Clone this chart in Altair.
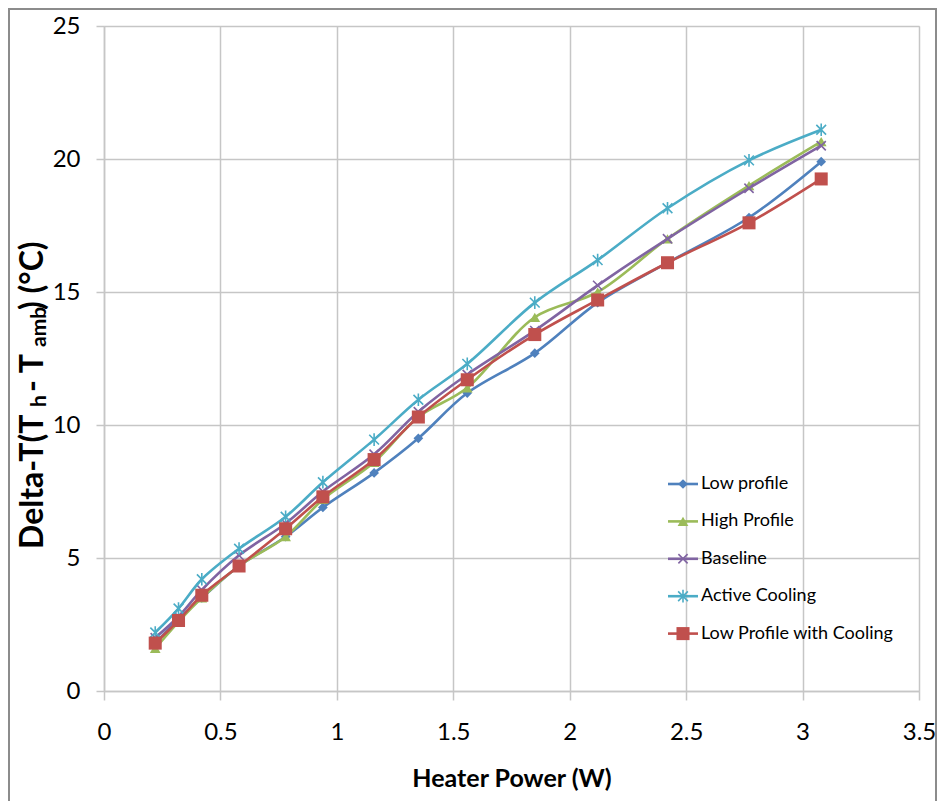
import altair as alt
import pandas as pd

# ---------------- data ----------------
heater_power = [0.22, 0.32, 0.42, 0.58, 0.78, 0.94, 1.16, 1.35, 1.56, 1.85, 2.12, 2.42, 2.77, 3.08]

low_profile = [1.8, 2.7, 3.5, 4.7, 5.8, 6.9, 8.2, 9.5, 11.2, 12.7, 14.6, 16.1, 17.8, 19.9]
high_profile = [1.6, 2.6, 3.5, 4.7, 5.8, 7.2, 8.6, 10.3, 11.4, 14.05, 15.0, 17.0, 19.0, 20.65]
baseline = [2.0, 2.8, 3.8, 5.1, 6.3, 7.5, 8.9, 10.5, 11.9, 13.55, 15.25, 17.0, 18.9, 20.5]
active_cooling = [2.2, 3.1, 4.2, 5.35, 6.55, 7.85, 9.45, 10.95, 12.3, 14.6, 16.2, 18.15, 19.95, 21.1]
low_profile_cooling = [1.8, 2.65, 3.6, 4.7, 6.1, 7.3, 8.7, 10.3, 11.7, 13.4, 14.7, 16.1, 17.6, 19.25]

series_names = ["Low profile", "High Profile", "Baseline", "Active Cooling", "Low Profile with Cooling"]
series_values = [low_profile, high_profile, baseline, active_cooling, low_profile_cooling]

x_ticks = [0, 0.5, 1, 1.5, 2, 2.5, 3, 3.5]
y_ticks = [0, 5, 10, 15, 20, 25]

# ---------------- styles ----------------
colors = ["#4F81BD", "#9BBB59", "#8064A2", "#4BACC6", "#C0504D"]
X_PATH = "M-1,-1L1,1M-1,1L1,-1"
STAR_PATH = "M-1,-1L1,1M-1,1L1,-1M0,-1.3L0,1.3"
marker_styles = [
    dict(shape="diamond", filled=True, size=95),
    dict(shape="triangle-up", filled=True, size=115),
    dict(shape=X_PATH, filled=False, size=85),
    dict(shape=STAR_PATH, filled=False, size=95),
    dict(shape="square", filled=True, size=170),
]
FONT = "Lato"
GRID = "#C6C6C6"

W, H = 815, 665

rows = []
for name, vals in zip(series_names, series_values):
    for i, (xv, yv) in enumerate(zip(heater_power, vals)):
        rows.append({"series": name, "power": xv, "dt": yv, "idx": i})
df = pd.DataFrame(rows)

xscale = alt.Scale(domain=[0, 3.5], nice=False, zero=False)
yscale = alt.Scale(domain=[0, 25], nice=False)

base = alt.Chart(df)

layers = []

axes_layer = base.mark_point(opacity=0).encode(
    x=alt.X("power:Q", scale=xscale,
            axis=alt.Axis(values=x_ticks, format="~g", title="Heater Power (W)",
                          grid=True, gridColor=GRID, gridWidth=1.5,
                          domainColor=GRID, domainWidth=1.5,
                          tickColor=GRID, tickSize=9, tickWidth=1.5,
                          labelFont=FONT, labelFontSize=24, labelColor="#000",
                          labelPadding=20, labelFlush=False,
                          titleFont=FONT, titleFontSize=25, titleFontWeight="bold",
                          titleColor="#000", titleBaseline="alphabetic", titleY=95)),
    y=alt.Y("dt:Q", scale=yscale,
            axis=alt.Axis(values=y_ticks, title=None,
                          grid=True, gridColor=GRID, gridWidth=1.5,
                          domainColor=GRID, domainWidth=1.5,
                          tickColor=GRID, tickSize=8, tickWidth=1.5,
                          labelFont=FONT, labelFontSize=24, labelColor="#000",
                          labelPadding=16)),
)
layers.append(axes_layer)

for name, col, ms in zip(series_names, colors, marker_styles):
    sub = base.transform_filter(alt.datum.series == name)
    line = sub.mark_line(color=col, strokeWidth=2.6, interpolate="catmull-rom").encode(
        x=alt.X("power:Q", scale=xscale),
        y=alt.Y("dt:Q", scale=yscale),
        order="idx:Q",
    )
    if ms["filled"]:
        pts = sub.mark_point(shape=ms["shape"], filled=True, color=col, size=ms["size"], opacity=1)
    else:
        pts = sub.mark_point(shape=ms["shape"], filled=False, color=col, size=ms["size"],
                             strokeWidth=1.6, opacity=1)
    pts = pts.encode(x=alt.X("power:Q", scale=xscale), y=alt.Y("dt:Q", scale=yscale))
    layers += [line, pts]

# ---------------- manual legend ----------------
leg_rows = []
for i, name in enumerate(series_names):
    yy = 458 + i * 37.4
    leg_rows.append({"series": name, "x1": 564, "x2": 594, "xm": 579, "xt": 597, "yy": yy})
leg = pd.DataFrame(leg_rows)

for name, col, ms in zip(series_names, colors, marker_styles):
    lsub = alt.Chart(leg).transform_filter(alt.datum.series == name)
    layers.append(lsub.mark_rule(color=col, strokeWidth=2.6).encode(
        x=alt.X("x1:Q", scale=None), x2="x2:Q", y=alt.Y("yy:Q", scale=None)))
    if ms["filled"]:
        lp = lsub.mark_point(shape=ms["shape"], filled=True, color=col, size=ms["size"], opacity=1)
    else:
        lp = lsub.mark_point(shape=ms["shape"], filled=False, color=col, size=ms["size"],
                             strokeWidth=1.6, opacity=1)
    layers.append(lp.encode(x=alt.X("xm:Q", scale=None), y=alt.Y("yy:Q", scale=None)))

layers.append(alt.Chart(leg).mark_text(align="left", baseline="middle", font=FONT,
                                       fontSize=18, color="#000").encode(
    x=alt.X("xt:Q", scale=None), y=alt.Y("yy:Q", scale=None), text="series:N"))

# ---------------- y-axis title with subscripts ----------------
NB = "\u00a0"
title_parts = [
    ("Delta-T(T", 32, 523, -61),
    ("h", 21, 381, -58),
    (NB + "-" + NB + "T", 32, 366, -61),
    ("amb", 21, 321, -58),
    (")" + NB + "(°C)", 32, 284, -61),
]
tdf = pd.DataFrame([{"t": t} for t, _, _, _ in title_parts])
for t, fs, yy, xx in title_parts:
    layers.append(alt.Chart(tdf).transform_filter(alt.datum.t == t).mark_text(
        angle=270, align="left", baseline="alphabetic", font=FONT, fontSize=fs,
        fontWeight="bold", color="#000").encode(
        x=alt.value(xx), y=alt.value(yy), text="t:N"))

# ---------------- outer frame ----------------
frame = pd.DataFrame({"k": [0]})
layers.append(alt.Chart(frame).mark_rule(color="#8C8C8C", strokeWidth=2).encode(
    x=alt.value(-95), y=alt.value(-17), y2=alt.value(H + 120)))
layers.append(alt.Chart(frame).mark_rule(color="#8C8C8C", strokeWidth=2).encode(
    x=alt.value(-96), x2=alt.value(W + 18), y=alt.value(-17)))
layers.append(alt.Chart(frame).mark_rule(color="#8C8C8C", strokeWidth=2).encode(
    x=alt.value(W + 17), y=alt.value(-17), y2=alt.value(H + 120)))

chart = alt.layer(*layers).properties(
    width=W, height=H,
    autosize=alt.AutoSizeParams(type="none"),
    padding={"left": 96, "top": 18, "right": 18, "bottom": 110},
).configure_view(stroke=None).configure(background="white")

chart.save("out.html", embed_options={"renderer": "svg", "actions": False})
